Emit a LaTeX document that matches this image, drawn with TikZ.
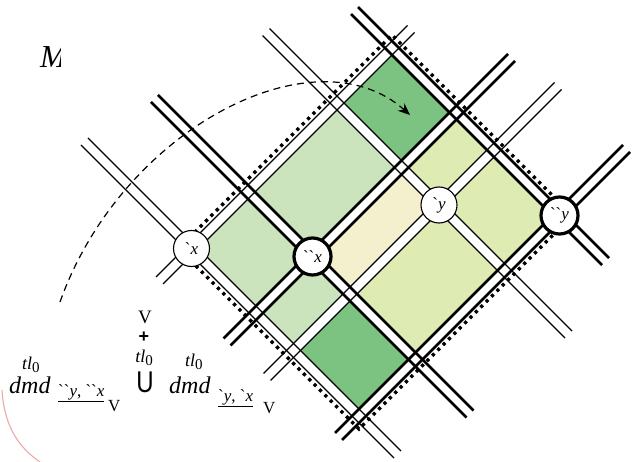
\documentclass[tikz,border=0pt]{standalone}
\usepackage{fontspec}
\setmainfont{Liberation Serif}
\newfontfamily\sansf{Liberation Sans}
\usetikzlibrary{arrows.meta}
\definecolor{cLight}{RGB}{203,228,189}
\definecolor{cDark}{RGB}{124,195,130}
\definecolor{cCream}{RGB}{244,239,204}
\definecolor{cYel}{RGB}{222,236,180}
\definecolor{cPink}{RGB}{233,170,170}
\def\rw{7}
\def\cA{-57}\def\cB{56}\def\cC{234}\def\cD{344}
\def\sP{440}\def\sQ{569}\def\sR{644}\def\sS{775}
\newcommand\roadC[4]{%
  \draw[#4] ({#1-\rw},#2) -- ({#1-\rw},#3);
  \draw[#4] ({#1+\rw},#2) -- ({#1+\rw},#3);}
\newcommand\roadS[4]{%
  \draw[#4] (#2,{#1-\rw}) -- (#3,{#1-\rw});
  \draw[#4] (#2,{#1+\rw}) -- (#3,{#1+\rw});}
\newcommand\cellfill[5]{%
  \fill[#5] ({#1+\rw},{#3+\rw}) -- ({#2-\rw},{#3+\rw}) -- ({#2-\rw},{#4-\rw}) -- ({#1+\rw},{#4-\rw}) -- cycle;}
\tikzset{
  thinrd/.style={line width=1.1pt},
  thickrd/.style={line width=2.8pt},
  dotrim/.style={line width=3.2pt, dash pattern=on 3.2pt off 4.4pt},
  nodethin/.style={circle, draw, fill=white, line width=1.1pt, minimum size=36pt, inner sep=0pt, font=\fontsize{17}{17}\selectfont},
  nodethick/.style={circle, draw, fill=white, line width=3.2pt, minimum size=37pt, inner sep=0pt, font=\fontsize{17}{17}\selectfont},
  flow/.style={line width=1.2pt, dash pattern=on 7pt off 5pt, -{Stealth[length=12pt,width=10pt,inset=4pt]}},
  lbl/.style={anchor=base west, inner sep=0pt},
  lblc/.style={anchor=base, inner sep=0pt},
}
\begin{document}
\begin{tikzpicture}[x=1pt,y=-1pt]
\useasboundingbox (0,0) rectangle (634,462);
\begin{scope}[x={(0.5pt,0.5pt)}, y={(0.5pt,-0.5pt)}]
  % cells
  \cellfill{\cA}{\cB}{\sP}{\sQ}{cLight}
  \cellfill{\cA}{\cB}{\sQ}{\sR}{cLight}
  \cellfill{\cA}{\cB}{\sR}{\sS}{cDark}
  \cellfill{\cB}{\cC}{\sP}{\sQ}{cLight}
  \cellfill{\cB}{\cC}{\sQ}{\sR}{cCream}
  \cellfill{\cB}{\cC}{\sR}{\sS}{cYel}
  \cellfill{\cC}{\cD}{\sP}{\sQ}{cDark}
  \cellfill{\cC}{\cD}{\sQ}{\sR}{cYel}
  \cellfill{\cC}{\cD}{\sR}{\sS}{cYel}
  % roads running down-right
  \roadC{\cA}{226}{852}{thinrd}
  \roadC{\cB}{253}{884}{thickrd}
  \roadC{\cC}{298}{903}{thinrd}
  \roadC{\cD}{365}{867}{thickrd}
  % roads running up-right
  \roadS{\sP}{-121}{382}{thinrd}
  \roadS{\sQ}{-115}{454}{thickrd}
  \roadS{\sR}{-110}{472}{thinrd}
  \roadS{\sS}{-98}{478}{thickrd}
  % dotted boundary
  \draw[dotrim] (-70,427) -- (357,427) -- (357,788) -- (-70,788) -- cycle;
\end{scope}
% flow arc
\coordinate (arcS) at (60,302);
\coordinate (arcE) at (410,115);
\draw[flow] (arcS) .. controls (122,128) and (315,30) .. (arcE);
% pink arc
\coordinate (pkS) at (2,390);
\coordinate (pkE) at (40,462);
\draw[cPink, line width=1.1pt] (pkS) .. controls (4,425) and (18,447) .. (pkE);
\begin{scope}[x={(0.5pt,0.5pt)}, y={(0.5pt,-0.5pt)}]
  \node[nodethin] (nx) at (\cA,\sP) {\textasciigrave\textit{x}};
  \node[nodethick] (nxx) at (\cB,\sQ) {\textasciigrave\textasciigrave\textit{x}};
  \node[nodethin] (ny) at (\cC,\sR) {\textasciigrave\textit{y}};
  \node[nodethick] (nyy) at (\cD,\sS) {\textasciigrave\textasciigrave\textit{y}};
\end{scope}
% clipped title
\begin{scope}
  \clip (30,30) rectangle (60.5,80);
  \node[lbl, font=\fontsize{32}{32}\selectfont\itshape] (ttl) at (40,68) {M};
\end{scope}
% formula
\node[lbl, font=\fontsize{18}{18}\selectfont] (t1) at (22,369) {\textit{tl}\raisebox{-3.5pt}{\fontsize{15}{15}\selectfont 0}};
\node[lbl, font=\fontsize{24}{24}\selectfont\itshape] (d1) at (9,393) {dmd};
\node[lbl, font=\fontsize{17}{17}\selectfont] (u1) at (58,396) {\underline{\textasciigrave\textasciigrave\textit{y}, \textasciigrave\textasciigrave\textit{x}}};
\node[lbl, font=\fontsize{17}{17}\selectfont] (v1) at (108,411) {V};
\node[lblc, font=\fontsize{19}{19}\selectfont] (v2) at (145,323) {V};
\node[lblc, font=\sansf\bfseries\fontsize{18}{18}\selectfont] (pl) at (144,342) {+};
\node[lblc, font=\fontsize{18}{18}\selectfont] (t2) at (144,362) {\textit{tl}\raisebox{-3pt}{\fontsize{15}{15}\selectfont 0}};
\node[lblc, font=\sansf\fontsize{30}{30}\selectfont] (uu) at (145,392) {\scalebox{0.8}[1]{U}};
\node[lbl, font=\fontsize{18}{18}\selectfont] (t3) at (185,366) {\textit{tl}\raisebox{-3.5pt}{\fontsize{15}{15}\selectfont 0}};
\node[lbl, font=\fontsize{24}{24}\selectfont\itshape] (d2) at (169,393) {dmd};
\node[lbl, font=\fontsize{17}{17}\selectfont] (u2) at (218,401) {\underline{\textasciigrave\textit{y}, \textasciigrave\textit{x}}};
\node[lbl, font=\fontsize{17}{17}\selectfont] (v3) at (263,413) {V};
\end{tikzpicture}
\end{document}
